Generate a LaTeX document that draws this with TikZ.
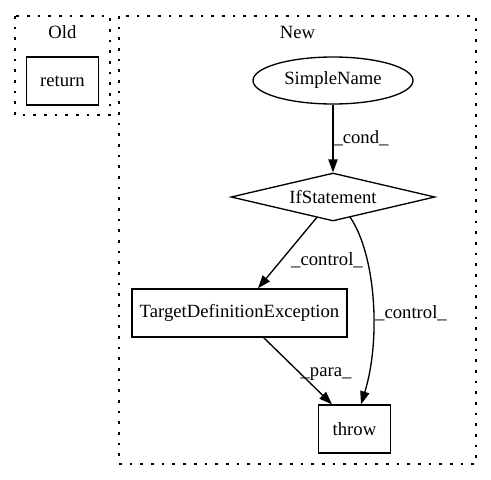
\documentclass[tikz,border=0pt]{standalone}
\usepackage{fontspec}
\setmainfont{Liberation Serif}
\usetikzlibrary{shapes.geometric,arrows.meta}
\begin{document}
\begin{tikzpicture}[x=1pt,y=-1pt,
  every node/.style={font=\fontsize{18.67}{20}\selectfont},
  cluster/.style={draw,line width=1.33pt,dash pattern=on 2.67pt off 8pt},
  box/.style={draw,rectangle,inner sep=0pt,line width=1.33pt},
  edge/.style={draw,line width=1.33pt,-{Triangle[length=13pt,width=9.3pt]}},
  lbl/.style={font=\fontsize{18.67}{20}\selectfont,inner sep=0pt}]
\useasboundingbox (0,0) rectangle (491,480);
\draw[cluster] (15,16) rectangle (110,115);
\node (oldlbl) at (62.5,32) {Old};
\node[box,minimum width=72pt,minimum height=48pt] (ret) at (62.5,81) {return};
\draw[cluster] (119,16) rectangle (476,464);
\node (newlbl) at (297.5,32) {New};
\node[draw,ellipse,line width=1.33pt,minimum width=160pt,minimum height=47pt,inner sep=0pt] (sn) at (333,80.5) {SimpleName};
\node[draw,diamond,aspect=4.25,line width=1.33pt,minimum width=204pt,minimum height=48pt,inner sep=0pt] (ifs) at (333,197) {IfStatement};
\node[box,minimum width=215pt,minimum height=48pt] (tde) at (239.5,313) {TargetDefinitionException};
\node[box,minimum width=72pt,minimum height=48pt] (thr) at (354.5,429) {throw};
\draw[edge] (sn) -- (ifs);
\node[lbl] (l1) at (361,138) {\_cond\_};
\coordinate (a1) at (317,217.2);
\draw[edge] (a1) -- (tde.north -| 258,0);
\node[lbl] (l2) at (327,260) {\_control\_};
\coordinate (a2) at (350,217);
\draw[edge] (a2) .. controls (376,255) and (381,340) .. (thr.north -| 361,0);
\node[lbl] (l3) at (411,313) {\_control\_};
\coordinate (a3) at (263,337);
\draw[edge] (a3) -- (thr.north -| 332,0);
\node[lbl] (l4) at (326,374) {\_para\_};
\end{tikzpicture}
\end{document}
